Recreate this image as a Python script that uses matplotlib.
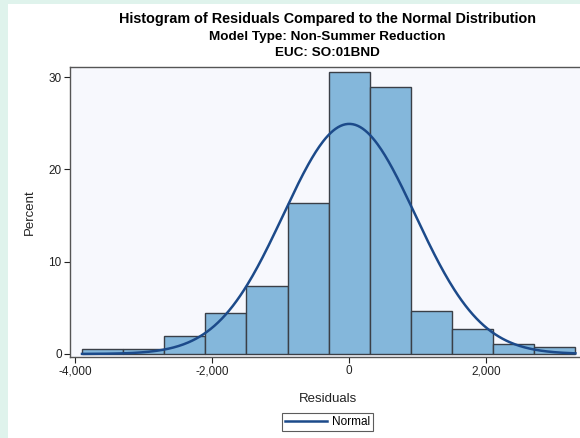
import numpy as np
import matplotlib
matplotlib.use("Agg")
import matplotlib.pyplot as plt
from matplotlib.patches import Rectangle
from matplotlib.lines import Line2D
from matplotlib.ticker import FuncFormatter

# Histogram of residuals (percent per bin) and fitted normal parameters
bin_centers = [-3600, -3000, -2400, -1800, -1200, -600, 0, 600, 1200, 1800, 2400, 3000]
bin_percent = [0.5, 0.5, 1.9, 4.4, 7.4, 16.4, 30.6, 28.9, 4.7, 2.7, 1.1, 0.8]
bin_width = 600
normal_mu = 0.0
normal_sigma = 960.0
x_ticks = [-4000, -2000, 0, 2000]
y_ticks = [0, 10, 20, 30]
title_lines = ["Histogram of Residuals Compared to the Normal Distribution",
               "Model Type: Non-Summer Reduction",
               "EUC: SO:01BND"]

plt.rcParams["font.family"] = ["Liberation Sans", "DejaVu Sans"]

W, H = 580, 438
fig = plt.figure(figsize=(W / 100, H / 100), dpi=100, facecolor="#dff3ec")
# white page area
fig.patches.append(Rectangle((8 / W, 0), 1, (H - 4) / H, transform=fig.transFigure,
                             facecolor="white", edgecolor="none", zorder=-10))

ax_l, ax_r, ax_t, ax_b = 70, 585, 67, 357
ax = fig.add_axes([ax_l / W, 1 - ax_b / H, (ax_r - ax_l) / W, (ax_b - ax_t) / H])
ax.set_facecolor("#f7f8fd")

ax.bar(bin_centers, bin_percent, width=bin_width, color="#84b7db",
       edgecolor="#3a3f47", linewidth=1.0, zorder=2)

xs = np.linspace(bin_centers[0] - bin_width / 2, bin_centers[-1] + bin_width / 2, 400)
pdf = 100 * bin_width / (normal_sigma * np.sqrt(2 * np.pi)) * np.exp(-0.5 * ((xs - normal_mu) / normal_sigma) ** 2)
ax.plot(xs, pdf, color="#1c4a8a", linewidth=1.8, zorder=3)

ax.set_xlim(-4075, 3440)
ax.set_ylim(-0.33, 31.1)
ax.set_xticks(x_ticks)
ax.set_yticks(y_ticks)
ax.xaxis.set_major_formatter(FuncFormatter(lambda v, p: f"{int(v):,}"))
ax.tick_params(axis="both", labelsize=8.5, colors="#222222", length=4, width=0.8,
               direction="out", pad=2)
for s in ["top", "left", "bottom"]:
    ax.spines[s].set_color("#555555")
    ax.spines[s].set_linewidth(1.0)
ax.spines["right"].set_visible(False)

ax.set_xlabel("Residuals", fontsize=9.5, color="#222222", labelpad=11)
ax.set_ylabel("Percent", fontsize=9.5, color="#222222", labelpad=9)

cx = (ax_l + ax_r) / 2 / W
fig.text(cx, 1 - 19 / H, title_lines[0], ha="center", va="center", fontsize=10.4, fontweight="bold")
fig.text(cx, 1 - 37 / H, title_lines[1], ha="center", va="center", fontsize=9.7, fontweight="bold")
fig.text(cx, 1 - 53 / H, title_lines[2], ha="center", va="center", fontsize=9.7, fontweight="bold")

handle = Line2D([], [], color="#1c4a8a", linewidth=1.8)
leg = fig.legend([handle], ["Normal"], loc="center", bbox_to_anchor=(cx, 1 - 422 / H),
                 frameon=True, fancybox=False, fontsize=8.5, handlelength=3.6,
                 borderpad=0.25, handletextpad=0.4, borderaxespad=0)
leg.get_frame().set_edgecolor("#333333")
leg.get_frame().set_linewidth(0.8)

fig.savefig("out.png", dpi=100, facecolor=fig.get_facecolor())
